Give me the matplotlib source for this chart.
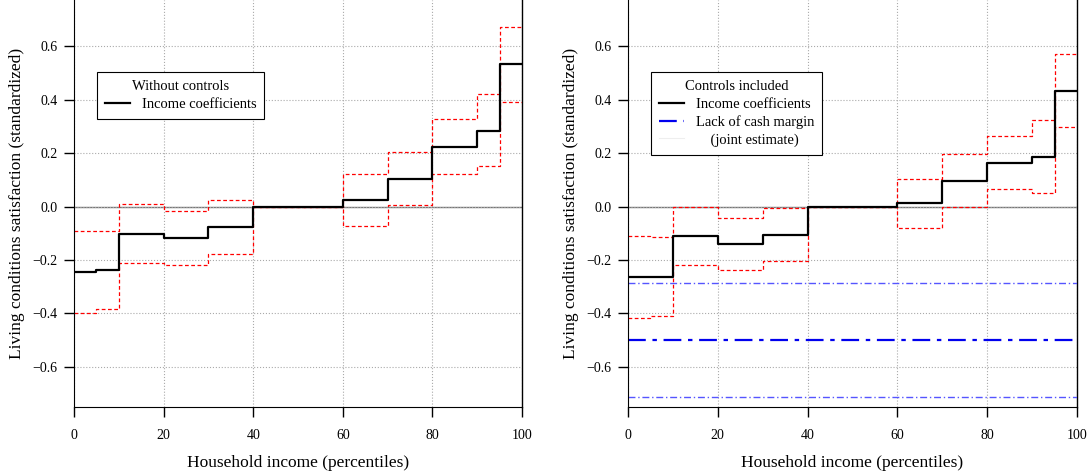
import numpy as np
import matplotlib
matplotlib.use("Agg")
import matplotlib.pyplot as plt

plt.rcParams['font.family'] = ['Liberation Serif', 'DejaVu Serif']

# percentile group edges
edges = [0, 5, 10, 20, 30, 40, 60, 70, 80, 90, 95, 100]

# without controls
coef_a = [-0.243, -0.237, -0.102, -0.116, -0.077, 0.0, 0.025, 0.103, 0.223, 0.284, 0.532]
upper_a = [-0.090, -0.092, 0.009, -0.015, 0.024, 0.0, 0.123, 0.203, 0.327, 0.420, 0.673]
lower_a = [-0.397, -0.383, -0.212, -0.217, -0.178, 0.0, -0.071, 0.006, 0.121, 0.150, 0.390]

# controls included
coef_b = [-0.264, -0.262, -0.110, -0.141, -0.105, 0.0, 0.012, 0.096, 0.163, 0.187, 0.434]
upper_b = [-0.111, -0.115, 0.0, -0.042, -0.006, 0.0, 0.105, 0.195, 0.263, 0.324, 0.572]
lower_b = [-0.418, -0.408, -0.219, -0.238, -0.203, 0.0, -0.081, 0.0, 0.064, 0.049, 0.296]

# lack of cash margin (joint estimate) and its interval
cash = -0.499
cash_ci = [-0.287, -0.711]

xticks = [0, 20, 40, 60, 80, 100]
yticks = [-0.6, -0.4, -0.2, 0.0, 0.2, 0.4, 0.6]


def steps(v):
    return list(v) + [v[-1]]


def setup(ax):
    ax.set_xlim(0, 100)
    ax.set_ylim(-0.75, 0.773)
    ax.set_xticks(xticks)
    ax.set_yticks(yticks)
    ax.set_yticklabels(['\u22120.6', '\u22120.4', '\u22120.2', '0.0', '0.2', '0.4', '0.6'])
    ax.grid(True, color='#aaaaaa', linestyle=':', linewidth=0.8)
    ax.axhline(0, color='#777777', linewidth=1.0, zorder=1)
    ax.axvline(100, color='black', linewidth=1.0, clip_on=False)
    ax.spines['top'].set_visible(False)
    ax.spines['right'].set_visible(False)
    ax.tick_params(direction='out', length=7, width=1, labelsize=10, pad=9)
    ax.tick_params(axis='y', pad=5)
    ax.set_xlabel('Household income (percentiles)', fontsize=12.5, labelpad=9)
    ax.set_ylabel('Living conditions satisfaction (standardized)', fontsize=12.5, labelpad=5)


fig = plt.figure(figsize=(10.91, 4.74), dpi=100)
ax1 = fig.add_axes([74 / 1091, 67 / 474, 448 / 1091, 407 / 474])
ax2 = fig.add_axes([628 / 1091, 67 / 474, 449 / 1091, 407 / 474])

for ax in (ax1, ax2):
    setup(ax)

leg_kw = dict(loc='upper left', bbox_to_anchor=(0.052, 0.823), borderaxespad=0, fancybox=False,
              edgecolor='black', framealpha=1, fontsize=10.5, title_fontsize=10.5, handlelength=1.7,
              borderpad=0.55, labelspacing=0.3, handletextpad=0.8)

# left panel
ax1.step(edges, steps(upper_a), where='post', color='red', linestyle=(0, (3, 2)), linewidth=0.9)
ax1.step(edges, steps(lower_a), where='post', color='red', linestyle=(0, (3, 2)), linewidth=0.9)
l1, = ax1.step(edges, steps(coef_a), where='post', color='black', linewidth=1.6, label='Income coefficients')
leg = ax1.legend(handles=[l1], title='Without controls', **leg_kw)
leg.get_frame().set_linewidth(0.8)

# right panel
ax2.step(edges, steps(upper_b), where='post', color='red', linestyle=(0, (3, 2)), linewidth=0.9)
ax2.step(edges, steps(lower_b), where='post', color='red', linestyle=(0, (3, 2)), linewidth=0.9)
l2, = ax2.step(edges, steps(coef_b), where='post', color='black', linewidth=1.6, label='Income coefficients')
l3 = ax2.axhline(cash, color='#0000ee', linestyle=(0, (8, 3, 2, 3)), linewidth=1.6,
                 label='Lack of cash margin')
for c in cash_ci:
    ax2.axhline(c, color='#5555ff', linestyle=(0, (5, 2, 1, 2)), linewidth=1.0)
l4, = ax2.plot([], [], color='#eeeeee', linewidth=0.8, label='    (joint estimate)')
leg = ax2.legend(handles=[l2, l3, l4], title='Controls included', **leg_kw)
leg.get_frame().set_linewidth(0.8)

fig.savefig('out.png', dpi=100)
